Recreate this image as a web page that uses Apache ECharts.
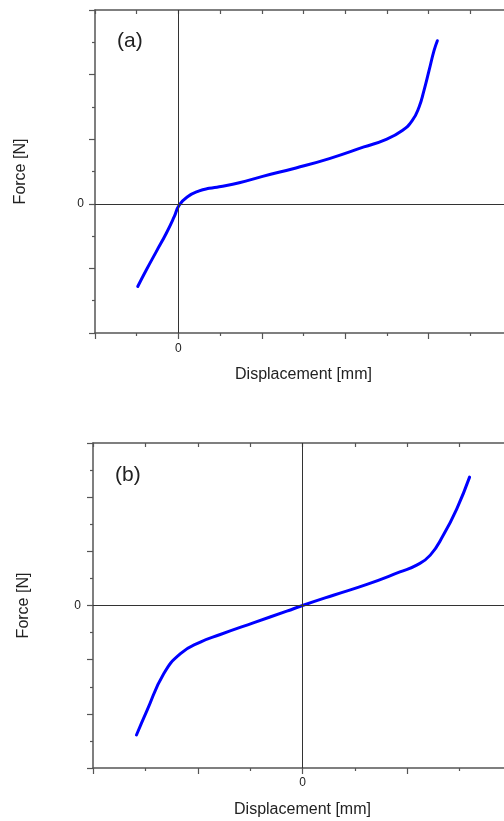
<!DOCTYPE html>
<html>
<head>
<meta charset="UTF-8">
<title>Force - Displacement</title>
<script src="https://cdn.jsdelivr.net/npm/echarts@6/dist/echarts.min.js"></script>
<style>
  html, body { margin: 0; padding: 0; background: #fff; }
</style>
</head>
<body>
<div id="main" style="width:504px;height:821px;"></div>
<script type="text/javascript">
// curve (a)
var aDisp  = [-0.975, -0.77, -0.53, -0.29, -0.10, 0.02, 0.22, 0.50, 0.74, 0.98, 1.46, 2.02, 2.82, 3.62, 4.45, 4.97, 5.37, 5.61, 5.77, 5.89, 6.01, 6.13, 6.21];
var aForce = [-2.56, -2.05, -1.48, -0.91, -0.40, -0.04, 0.22, 0.40, 0.48, 0.53, 0.65, 0.85, 1.11, 1.40, 1.76, 1.99, 2.27, 2.58, 2.99, 3.51, 4.12, 4.74, 5.05];
// curve (b)
var bDisp  = [-3.17, -2.97, -2.65, -2.33, -1.95, -1.57, -0.94, -0.30, 0, 0.59, 1.23, 1.86, 2.18, 2.44, 2.69, 2.95, 3.19];
var bForce = [-4.78, -3.88, -2.52, -1.78, -1.35, -1.07, -0.64, -0.21, 0, 0.38, 0.78, 1.24, 1.49, 1.86, 2.60, 3.59, 4.74];
// axis ranges
var aXRange = [-2, 8], aYRange = [-4, 6];
var bXRange = [-4, 4], bYRange = [-6, 6];
var tickLabels = ['0'];

function pairs(xs, ys) {
    return xs.map(function (x, i) { return [x, ys[i]]; });
}

var FONT = "'Liberation Sans', Arial, sans-serif";
var AXIS_COLOR = '#555';
var TEXT_COLOR = '#222';

function onlyZero(v) {
    return v === 0 ? tickLabels[0] : '';
}

function bottomAxis(idx, range, nameGap, labelMargin) {
    return {
        type: 'value', gridIndex: idx, position: 'bottom',
        min: range[0], max: range[1], interval: 2,
        name: 'Displacement [mm]', nameLocation: 'middle', nameGap: nameGap,
        nameTextStyle: { fontSize: 16, color: TEXT_COLOR, fontFamily: FONT },
        axisLine: { show: true, onZero: false, lineStyle: { color: AXIS_COLOR, width: 1.5 } },
        axisTick: { show: true, inside: false, length: 6, lineStyle: { color: AXIS_COLOR, width: 1.2 } },
        minorTick: { show: true, splitNumber: 2, length: 3, lineStyle: { color: AXIS_COLOR, width: 1.2 } },
        axisLabel: { formatter: onlyZero, margin: labelMargin, fontSize: 12, color: TEXT_COLOR, fontFamily: FONT },
        splitLine: { show: false }
    };
}

function topAxis(idx, range) {
    return {
        type: 'value', gridIndex: idx, position: 'top',
        min: range[0], max: range[1], interval: 2,
        axisLine: { show: true, onZero: false, lineStyle: { color: AXIS_COLOR, width: 1.5 } },
        axisTick: { show: true, inside: true, length: 4, lineStyle: { color: AXIS_COLOR, width: 1.2 } },
        minorTick: { show: true, splitNumber: 2, length: 4, lineStyle: { color: AXIS_COLOR, width: 1.2 } },
        axisLabel: { show: false },
        splitLine: { show: false }
    };
}

function leftAxis(idx, range, nameGap, labelMargin) {
    return {
        type: 'value', gridIndex: idx, position: 'left',
        min: range[0], max: range[1], interval: 2,
        name: 'Force [N]', nameLocation: 'middle', nameGap: nameGap, nameRotate: 90,
        nameTextStyle: { fontSize: 16, color: TEXT_COLOR, fontFamily: FONT },
        axisLine: { show: true, onZero: false, lineStyle: { color: AXIS_COLOR, width: 1.5 } },
        axisTick: { show: true, inside: false, length: 6, lineStyle: { color: AXIS_COLOR, width: 1.2 } },
        minorTick: { show: true, splitNumber: 2, length: 3, lineStyle: { color: AXIS_COLOR, width: 1.2 } },
        axisLabel: { formatter: onlyZero, margin: labelMargin, fontSize: 12, color: TEXT_COLOR, fontFamily: FONT },
        splitLine: { show: false }
    };
}

function curve(xIdx, yIdx, data) {
    return {
        type: 'line', xAxisIndex: xIdx, yAxisIndex: yIdx,
        data: data, smooth: 0.5, showSymbol: false, symbol: 'none',
        lineStyle: { color: '#0000ff', width: 3, cap: 'round', join: 'round' },
        silent: true,
        markLine: {
            silent: true, symbol: 'none', animation: false,
            label: { show: false },
            lineStyle: { color: '#333', width: 1, type: 'solid' },
            data: [{ xAxis: 0 }, { yAxis: 0 }]
        }
    };
}

var myChart = echarts.init(document.getElementById('main'));

var option = {
    animation: false,
    backgroundColor: '#fff',
    title: [
        { text: '(a)', left: 117, top: 31, padding: 0, textStyle: { fontSize: 21, fontWeight: 'normal', color: TEXT_COLOR, fontFamily: FONT } },
        { text: '(b)', left: 115, top: 465, padding: 0, textStyle: { fontSize: 21, fontWeight: 'normal', color: TEXT_COLOR, fontFamily: FONT } }
    ],
    // plot area runs past the right edge of the picture (cropped, as in the reference)
    grid: [
        { left: 95, top: 10, width: 417, height: 323, outerBoundsMode: 'none', containLabel: false },
        { left: 93, top: 443, width: 419, height: 325, outerBoundsMode: 'none', containLabel: false }
    ],
    xAxis: [
        bottomAxis(0, aXRange, 34, 10),
        topAxis(0, aXRange),
        bottomAxis(1, bXRange, 34, 9),
        topAxis(1, bXRange)
    ],
    yAxis: [
        leftAxis(0, aYRange, 66, 11),
        leftAxis(1, bYRange, 61, 12)
    ],
    series: [
        curve(0, 0, pairs(aDisp, aForce)),
        curve(2, 1, pairs(bDisp, bForce))
    ]
};

myChart.setOption(option);
</script>
</body>
</html>
